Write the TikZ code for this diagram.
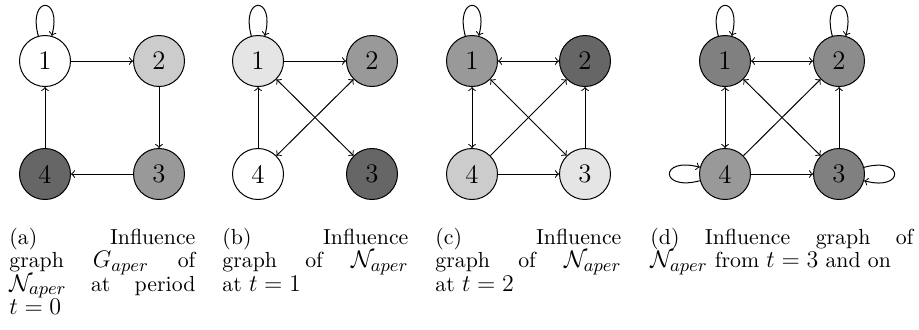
\documentclass[tikz,border=0pt]{standalone}
\usepackage{amsmath}
\DeclareMathSizes{10.9}{12}{8.8}{7}
\begin{document}
\begin{tikzpicture}[x=0.5pt,y=-0.5pt,
  vtx/.style={circle,draw,line width=0.5pt,minimum size=25.5pt,inner sep=0pt,
    font=\fontsize{13.4}{16}\selectfont},
  arr/.style={->,line width=0.5pt},
  barr/.style={<->,line width=0.5pt},
  captxt/.style={anchor=base west,inner sep=0pt,font=\fontsize{10.9}{11.8}\selectfont}]
\useasboundingbox (0,0) rectangle (919,329);
% (a)
\node[vtx,fill=white]    (a1) at (45,61)  {1};
\node[vtx,fill=black!20] (a2) at (159,61) {2};
\node[vtx,fill=black!40] (a3) at (159,174) {3};
\node[vtx,fill=black!60] (a4) at (45,174) {4};
\draw[arr] (a1) to[loop above] (a1);
\draw[arr] (a1) -- (a2);
\draw[arr] (a2) -- (a3);
\draw[arr] (a3) -- (a4);
\draw[arr] (a4) -- (a1);
% (b)
\node[vtx,fill=black!10] (b1) at (258,61)  {1};
\node[vtx,fill=black!40] (b2) at (372,61)  {2};
\node[vtx,fill=black!60] (b3) at (372,174) {3};
\node[vtx,fill=white]    (b4) at (258,174) {4};
\draw[arr] (b1) to[loop above] (b1);
\draw[arr] (b1) -- (b2);
\draw[arr] (b4) -- (b1);
\draw[barr] (b1) -- (b3);
\draw[barr] (b2) -- (b4);
% (c)
\node[vtx,fill=black!40] (c1) at (472,61)  {1};
\node[vtx,fill=black!60] (c2) at (585,61)  {2};
\node[vtx,fill=black!10] (c3) at (585,174) {3};
\node[vtx,fill=black!20] (c4) at (472,174) {4};
\draw[arr] (c1) to[loop above] (c1);
\draw[barr] (c1) -- (c2);
\draw[barr] (c1) -- (c4);
\draw[barr] (c1) -- (c3);
\draw[arr] (c4) -- (c2);
\draw[arr] (c4) -- (c3);
\draw[arr] (c3) -- (c2);
% (d)
\node[vtx,fill=black!50] (d1) at (725,61)  {1};
\node[vtx,fill=black!45] (d2) at (839,61)  {2};
\node[vtx,fill=black!50] (d3) at (839,174) {3};
\node[vtx,fill=black!40] (d4) at (725,174) {4};
\draw[arr] (d1) to[loop above] (d1);
\draw[arr] (d2) to[loop above] (d2);
\draw[arr] (d4) to[loop left] (d4);
\draw[arr] (d3) to[loop right] (d3);
\draw[barr] (d1) -- (d2);
\draw[barr] (d1) -- (d4);
\draw[barr] (d1) -- (d3);
\draw[arr] (d4) -- (d2);
\draw[arr] (d4) -- (d3);
\draw[arr] (d3) -- (d2);
% captions
\node[captxt] (capa) at (9,244) {\parbox[t]{93pt}{(a) Influence\linebreak graph $G_{aper}$ of\linebreak $\mathcal{N}_{aper}$ at period\linebreak $t=0$}};
\node[captxt] (capb) at (222,244) {\parbox[t]{93pt}{(b) Influence\linebreak graph of $\mathcal{N}_{aper}$\linebreak at $t=1$}};
\node[captxt] (capc) at (435,244) {\parbox[t]{93pt}{(c) Influence\linebreak graph of $\mathcal{N}_{aper}$\linebreak at $t=2$}};
\node[captxt] (capd) at (650,244) {\parbox[t]{131.5pt}{(d) Influence graph of\linebreak $\mathcal{N}_{aper}$ from $t=3$ and on}};
\end{tikzpicture}
\end{document}
